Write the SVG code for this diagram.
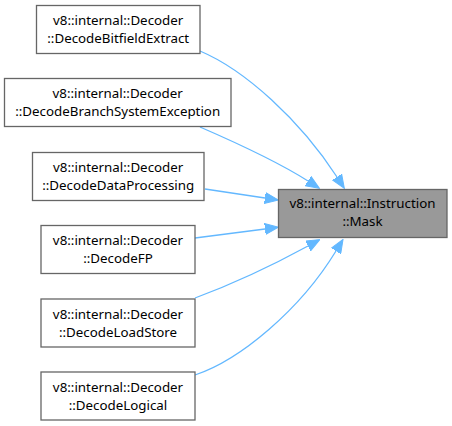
<svg xmlns="http://www.w3.org/2000/svg" width="452" height="426" viewBox="0 0 452 426">
<style>
.n rect{fill:#ffffff;stroke:#666666;stroke-width:1.3}
.n.main rect{fill:#999999}
.n text{font-family:"Noto Sans",sans-serif;font-size:13.33px;fill:#000000;text-anchor:middle}
.e path{fill:none;stroke:#63b8ff;stroke-width:1.3}
</style>
<defs>
<marker id="ah" markerUnits="userSpaceOnUse" markerWidth="14" markerHeight="12" refX="0" refY="5.5" orient="auto" viewBox="0 0 14 11">
<path d="M0,0 L13.5,5.5 L0,11 Z" fill="#63b8ff" stroke="#63b8ff" stroke-width="1"/>
</marker>
</defs>
<rect width="452" height="426" fill="#ffffff"/>
<g id="edges" class="e">
<path d="M200,51 C245,70 300,120 337,177" marker-end="url(#ah)"/>
<path d="M200,127 C230,140 275,160 308,181" marker-end="url(#ah)"/>
<path d="M205,189 L265,198" marker-end="url(#ah)"/>
<path d="M195,238 L265,229" marker-end="url(#ah)"/>
<path d="M195,298 C230,285 275,264 308,246" marker-end="url(#ah)"/>
<path d="M195,375 C240,360 300,310 336,251" marker-end="url(#ah)"/>
</g>
<g id="main" class="n main">
<rect x="278.5" y="189.5" width="168.5" height="48"/>
<text x="362.5" y="207.8">v8::internal::Instruction</text>
<text x="362.5" y="225.8">::Mask</text>
</g>
<g id="n1" class="n">
<rect x="36.5" y="5.5" width="163.5" height="48"/>
<text x="118.2" y="25">v8::internal::Decoder</text>
<text x="118.2" y="43">::DecodeBitfieldExtract</text>
</g>
<g id="n2" class="n">
<rect x="4.5" y="78.5" width="226.5" height="48"/>
<text x="117.7" y="98">v8::internal::Decoder</text>
<text x="117.7" y="116">::DecodeBranchSystemException</text>
</g>
<g id="n3" class="n">
<rect x="32.5" y="152.5" width="171.5" height="48"/>
<text x="118.2" y="172">v8::internal::Decoder</text>
<text x="118.2" y="190">::DecodeDataProcessing</text>
</g>
<g id="n4" class="n">
<rect x="41" y="225.5" width="154" height="48"/>
<text x="118" y="245">v8::internal::Decoder</text>
<text x="118" y="263">::DecodeFP</text>
</g>
<g id="n5" class="n">
<rect x="41" y="299" width="154" height="48"/>
<text x="118" y="318.5">v8::internal::Decoder</text>
<text x="118" y="336.5">::DecodeLoadStore</text>
</g>
<g id="n6" class="n">
<rect x="41" y="372" width="154" height="48"/>
<text x="118" y="391.5">v8::internal::Decoder</text>
<text x="118" y="409.5">::DecodeLogical</text>
</g>
</svg>
